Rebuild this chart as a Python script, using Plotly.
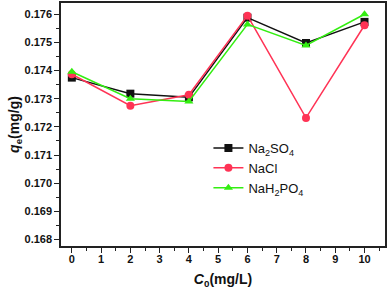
import plotly.graph_objects as go

c0 = [0, 2, 4, 6, 8, 10]
na2so4 = [0.17375, 0.17318, 0.17305, 0.17588, 0.17498, 0.17573]
nacl = [0.17387, 0.17275, 0.17314, 0.17595, 0.17232, 0.17561]
nah2po4 = [0.17396, 0.17300, 0.17290, 0.17564, 0.17489, 0.17600]

names = ["Na<sub>2</sub>SO<sub>4</sub>", "NaCl", "NaH<sub>2</sub>PO<sub>4</sub>"]
colors = ["#111111", "#ff3355", "#33ee11"]
symbols = ["square", "circle", "triangle-up"]

fig = go.Figure()
for ys, nm, col, sym in zip([na2so4, nacl, nah2po4], names, colors, symbols):
    fig.add_trace(go.Scatter(
        x=c0, y=ys, name=nm, mode="lines+markers",
        line=dict(color=col, width=1.5),
        marker=dict(symbol=sym, size=8, color=col),
    ))

axis_common = dict(
    showline=True, linecolor="#222", linewidth=1.5, mirror=True,
    ticks="outside", ticklen=5, tickwidth=1.2, tickcolor="#222",
    showgrid=False, zeroline=False, automargin=False,
    tickfont=dict(family="Liberation Sans, Arial", size=11, color="#111", weight="bold"),
)

fig.update_layout(
    width=391, height=292,
    margin=dict(l=61, r=6, t=3, b=46, autoexpand=False),
    plot_bgcolor="white", paper_bgcolor="white",
    showlegend=True,
    legend=dict(x=0.455, y=0.465, xanchor="left", yanchor="top",
                bgcolor="rgba(0,0,0,0)",
                font=dict(family="Liberation Sans, Arial", size=13, color="#111"),
                tracegroupgap=0, itemwidth=30),
    xaxis=dict(range=[-0.37, 10.7], tickvals=list(range(0, 11)),
               ticklabelstandoff=-3,
               minor=dict(tickvals=[i + 0.5 for i in range(0, 11)], ticklen=3, ticks="outside", tickcolor="#222"),
               title=dict(text="<i>C</i><sub>0</sub>(mg/L)", standoff=10,
                          font=dict(family="Liberation Sans, Arial", size=14, color="#111", weight="bold")),
               **axis_common),
    yaxis=dict(range=[0.16777, 0.1764], tickvals=[0.168 + 0.001 * i for i in range(9)],
               tickformat=".3f",
               minor=dict(tickvals=[0.1675 + 0.001 * i for i in range(10)], ticklen=3, ticks="outside", tickcolor="#222"),
               title=dict(text="<i>q</i><sub>e</sub>(mg/g)", standoff=2,
                          font=dict(family="Liberation Sans, Arial", size=14, color="#111", weight="bold")),
               **axis_common),
)

fig.write_html("out.html", config={"displayModeBar": False},
               post_script="document.body.style.margin='0';document.body.style.overflow='hidden';")
